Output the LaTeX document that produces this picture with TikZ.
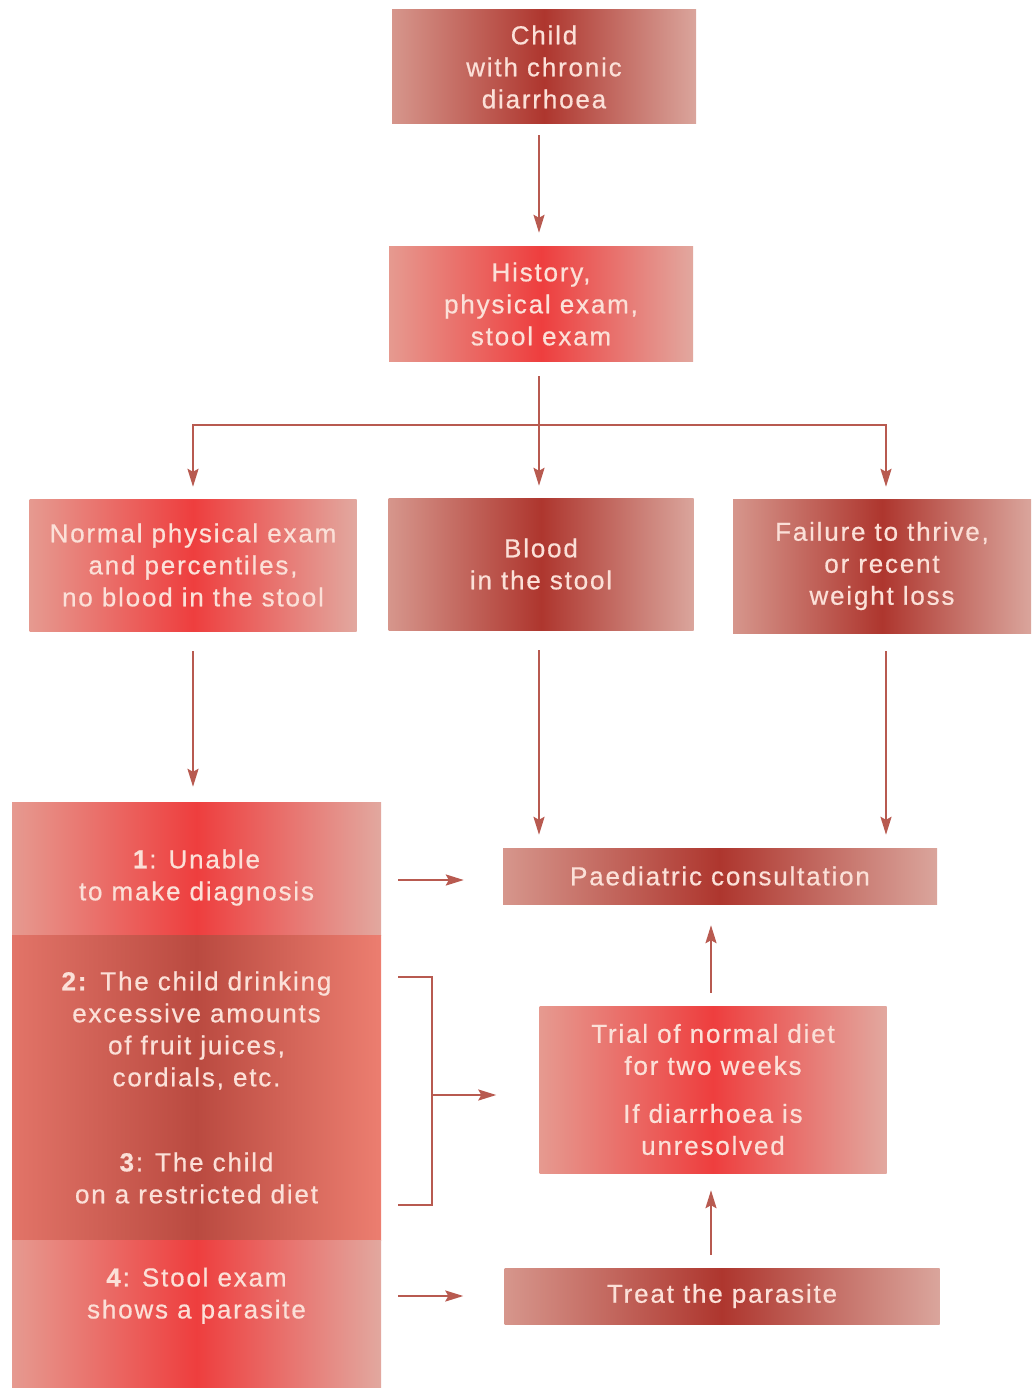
\documentclass[tikz,border=0pt]{standalone}
\usepackage{fontspec}
\setmainfont{Liberation Sans}[LetterSpace=7, FakeBold=0.6]
\usepackage{tikz}
\usetikzlibrary{arrows.meta, positioning, calc}

\definecolor{linkred}{HTML}{B85A50}
\definecolor{boxtext}{HTML}{FBE0D8}
\definecolor{rosyL}{HTML}{D6968C}
\definecolor{rosyR}{HTML}{DAA59C}
\definecolor{deepred}{HTML}{AE362E}
\definecolor{pinkL}{HTML}{E69A90}
\definecolor{pinkR}{HTML}{E2A89F}
\definecolor{hotred}{HTML}{EE3E3E}
\definecolor{coralL}{HTML}{E27468}
\definecolor{coralR}{HTML}{EC7E70}
\definecolor{brick}{HTML}{BA4A40}

\tikzset{
    box/.style={inner sep=0pt, text=boxtext, align=center,
        font=\fontsize{26}{32}\selectfont},
    darkbox/.style={box, left color=rosyL, right color=rosyR, middle color=deepred},
    brightbox/.style={box, left color=pinkL, right color=pinkR, middle color=hotred},
    midbox/.style={box, left color=coralL, right color=coralR, middle color=brick},
    link/.style={draw=linkred, line width=2.2pt},
    arr/.style={link, -{Stealth[length=18pt, width=11pt, inset=3pt]}}
}

\begin{document}
\begin{tikzpicture}[x=1pt, y=-1pt]
    \useasboundingbox (0,0) rectangle (1031,1388);

    % top row
    \node[darkbox, minimum width=304pt, minimum height=114pt] (child) at (544,67)
        {Child\\with chronic\\diarrhoea};
    \node[brightbox, minimum width=304pt, minimum height=114pt] (history) at (541,304)
        {History,\\physical exam,\\stool exam};

    % three findings
    \node[brightbox, minimum width=327pt, minimum height=132pt] (normal) at (193,565)
        {Normal physical exam\\and percentiles,\\no blood in the stool};
    \node[darkbox, minimum width=305pt, minimum height=132pt] (blood) at (541,564)
        {Blood\\in the stool};
    \node[darkbox, minimum width=298pt, minimum height=134pt] (failure) at (882,566)
        {Failure to thrive,\\or recent\\weight loss};

    % left column
    \node[brightbox, minimum width=369pt, minimum height=133pt] (unable) at (196.5,868.5)
        {\rule{0pt}{37pt}\textbf{1}: Unable\\to make diagnosis};
    \node[midbox, minimum width=369pt, minimum height=305pt] (juices) at (196.5,1087.5)
        {\textbf{2:} The child drinking\\excessive amounts\\of fruit juices,\\cordials, etc.\\[53pt]
         \textbf{3}: The child\\on a restricted diet};
    \node[brightbox, minimum width=369pt, minimum height=148pt] (parasite) at (196.5,1314)
        {\textbf{4}: Stool exam\\shows a parasite\\[10pt]};

    % right column
    \node[darkbox, minimum width=434pt, minimum height=56pt] (paed) at (720,876)
        {Paediatric consultation};
    \node[brightbox, minimum width=347pt, minimum height=167pt] (trial) at (713,1089.5)
        {Trial of normal diet\\for two weeks\\[16pt]If diarrhoea is\\unresolved};
    \node[darkbox, minimum width=435pt, minimum height=56pt] (treat) at (722,1296)
        {Treat the parasite};

    \coordinate (split) at (539,425);
    \coordinate (btop) at (398,977);
    \coordinate (bbot) at (398,1205);
    \coordinate (bmid) at (432,1095);

    \draw[arr, shorten <=11pt, shorten >=14pt] (child.south -| split) -- (history.north -| split);
    \draw[link, shorten <=15pt] (history.south -| split) -- (split);
    \draw[arr, shorten >=12pt] (split) -| (normal.north);
    \draw[arr, shorten >=12pt] (split) -- (split |- blood.north);
    \draw[arr, shorten >=12pt] (split) -| ([xshift=4pt]failure.north);

    \draw[arr, shorten <=20pt, shorten >=15pt] (normal.south) -- (normal.south |- unable.north);
    \draw[arr, shorten <=20pt, shorten >=13pt] (blood.south -| split) -- (paed.north -| split);
    \draw[arr, shorten <=18pt, shorten >=13pt] ([xshift=4pt]failure.south) -- ([xshift=4pt]failure.south |- paed.north);

    \draw[arr, shorten <=17pt, shorten >=39pt] ($(unable.east |- paed)+(0,4)$) -- ($(paed.west)+(0,4)$);
    \draw[link] (btop) -- (btop -| bmid) -- (bbot -| bmid) -- (bbot);
    \draw[arr, shorten >=43pt] (bmid) -- (bmid -| trial.west);
    \draw[arr, shorten <=17pt, shorten >=41pt] (parasite.east |- treat) -- (treat.west);

    \draw[arr, shorten <=13pt, shorten >=17pt] ([xshift=-2pt]treat.north -| trial) -- ([xshift=-2pt]trial.south);
    \draw[arr, shorten <=13pt, shorten >=21pt] ([xshift=-2pt]trial.north) -- ([xshift=-2pt]trial.north |- paed.south);
\end{tikzpicture}
\end{document}
